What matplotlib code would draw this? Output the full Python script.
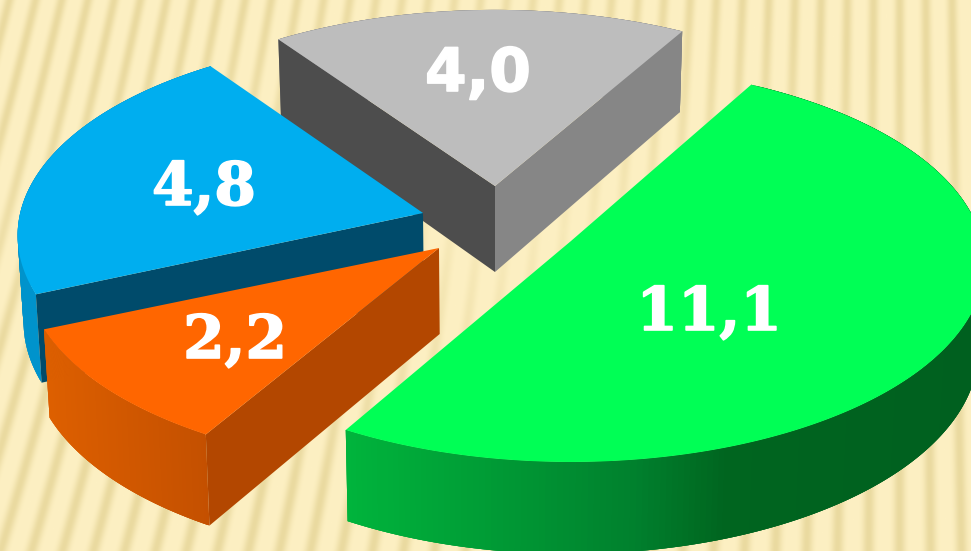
import numpy as np
import matplotlib
matplotlib.use("Agg")
import matplotlib.pyplot as plt
import matplotlib.patheffects as pe
from matplotlib.collections import PolyCollection
from matplotlib.colors import to_rgb

# slices, clockwise from the green one
slice_names = ["green", "orange", "blue", "gray"]
values = [11.1, 2.2, 4.8, 4.0]

# where each slice tip ended up after the explosion (pixels)
tips = [(571, 241), (439, 248), (423, 213), (495, 186)]
# small per slice corrections for the hand drawn look of the original
turn = [1.2, 0, 0, 0]
x_scale = [1, 1, 0.98, 1]
top_colors = ["#00FF55", "#FF6600", "#00AEEF", "#BDBDBD"]
# radial wall colour at the start / end edge of a slice
wall_start = ["#005F1F", "#B34700", "#004B6B", "#4D4D4D"]
wall_end = ["#005F1F", "#B34700", "#004B6B", "#868686"]
# (x, colour) stops for the curved outer wall
arc_stops = [
    [(345, "#00B53C"), (500, "#009A35"), (640, "#00802D"), (730, "#00651F"), (971, "#00601F")],
    [(47, "#DD5F00"), (207, "#C45000")],
    [(0, "#0093CC"), (971, "#0093CC")],
    [(0, "#868686"), (971, "#868686")],
]
label_pos = [(709, 330), (235, 358), (204, 205), (478, 91)]
label_family = ["DejaVu Serif", "DejaVu Serif", "DejaVu Serif", "DejaVu Sans"]

start_angle = 60
rx, ry = 411, 196
persp = 0.113
vanish_x = 495


def project(theta, tip, sx=1):
    X, Y = np.cos(np.radians(theta)), np.sin(np.radians(theta))
    s = 1 / (1 + persp * Y)
    return tip[0] + rx * sx * X * s, tip[1] - ry * Y * s


def drop(x, y, Y):
    # push a top point down to the bottom face
    return x + (vanish_x - x) * 0.0125, y + 86 - 6 * Y


def quad_wall(ax, p, Yp, q, Yq, color, z):
    a = drop(p[0], p[1], Yp)
    b = drop(q[0], q[1], Yq)
    ax.fill([p[0], q[0], b[0], a[0]], [p[1], q[1], b[1], a[1]],
            facecolor=color, edgecolor="none", zorder=z)


def background(ax):
    yy, xx = np.mgrid[0:551, 0:971]
    tilt = 0.3 * (1 - xx / 900)
    phase = (xx - tilt * (551 - yy)) / 31.0
    stripe = (0.5 + 0.5 * np.cos(2 * np.pi * phase)) ** 2.5
    fade = 0.25 + 0.7 * np.abs(yy - 230) / 320 + 0.5 * np.abs(xx - 500) / 500
    stripe = stripe * np.clip(fade, 0, 1)
    base = np.array([253, 240, 195]) / 255
    dark = np.array([234, 218, 160]) / 255
    img = base + stripe[..., None] * (dark - base)
    ax.imshow(img, extent=(0, 971, 551, 0), aspect="auto", zorder=0)


fig = plt.figure(figsize=(9.71, 5.51), dpi=100)
ax = fig.add_axes([0, 0, 1, 1])
background(ax)

spans = [v / sum(values) * 360 for v in values]
starts = start_angle - np.concatenate([[0], np.cumsum(spans)[:-1]])

# far slices first
for i in [3, 0, 2, 1]:
    z = {3: 1, 0: 2, 2: 3, 1: 4}[i] * 10
    tip = tips[i]
    thetas = np.linspace(starts[i], starts[i] - spans[i], 240) + turn[i]
    xs, ys = project(thetas, tip, x_scale[i])
    Ys = np.sin(np.radians(thetas))
    mid = len(xs) // 2

    # curved wall, strips overlap so no seams show
    bx, by = drop(xs, ys, Ys)
    stops = arc_stops[i]
    sx = [p[0] for p in stops]
    sc = np.array([to_rgb(p[1]) for p in stops])
    strips, cols = [], []
    for k in range(len(xs) - 1):
        e = min(k + 3, len(xs) - 1)
        strips.append([(xs[k], ys[k]), (xs[e], ys[e]), (bx[e], by[e]), (bx[k], by[k])])
        cols.append([np.interp(xs[k], sx, sc[:, c]) for c in range(3)])
    ax.add_collection(PolyCollection(strips, facecolors=cols, edgecolors="none", zorder=z + 1))

    # flat edges, only where they face the viewer
    for idx, col in [(0, wall_start[i]), (-1, wall_end[i])]:
        slope = (ys[idx] - tip[1]) / (xs[idx] - tip[0])
        line_y = tip[1] + slope * (xs[mid] - tip[0])
        if ys[mid] < line_y:
            quad_wall(ax, tip, 0, (xs[idx], ys[idx]), Ys[idx], col, z + 2)

    ax.fill(np.r_[tip[0], xs], np.r_[tip[1], ys], facecolor=top_colors[i], edgecolor="none", zorder=z + 3)

    label = f"{values[i]:.1f}".replace(".", ",")
    ax.text(label_pos[i][0], label_pos[i][1], label, color="white", fontsize=43,
            fontweight="bold", family=label_family[i], ha="center", va="baseline", zorder=60,
            path_effects=[pe.withStroke(linewidth=1.2, foreground="white")])

ax.set_xlim(0, 971)
ax.set_ylim(551, 0)
ax.axis("off")

fig.savefig("out.png", dpi=100)
